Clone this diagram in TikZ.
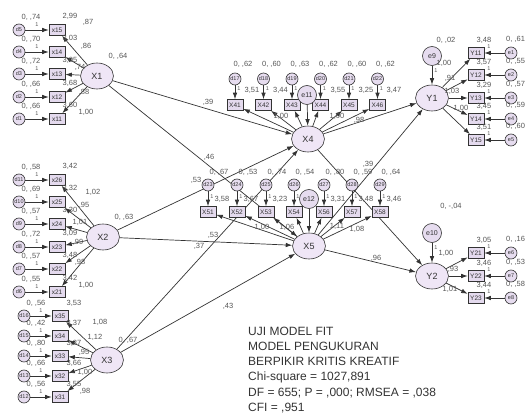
\documentclass[tikz,border=0pt]{standalone}
\usepackage{fontspec}
\setmainfont{Liberation Sans}
\usetikzlibrary{arrows.meta,shapes.geometric}
\pgfdeclarelayer{background}
\pgfsetlayers{background,main}
\definecolor{linec}{HTML}{333333}
\definecolor{latfill}{HTML}{EFE6F6}
\definecolor{obsfill}{HTML}{E4DAEE}
\definecolor{errfill}{HTML}{E6DCEF}
\definecolor{labc}{HTML}{555555}
\definecolor{textc}{HTML}{333333}
\begin{document}
\begin{tikzpicture}[x=1pt,y=-1pt,
  lat/.style={ellipse, draw=linec, line width=0.6pt, fill=latfill, minimum width=33pt,
    minimum height=26pt, inner sep=0pt, font=\fontsize{9}{9}\selectfont, text=linec},
  ind/.style={rectangle, draw=linec, line width=0.6pt, fill=obsfill, minimum width=16pt,
    minimum height=11pt, inner sep=0pt, font=\fontsize{6.5}{6.5}\selectfont, text=linec},
  errc/.style={circle, draw=linec, line width=0.6pt, fill=errfill, minimum size=12pt,
    inner sep=0pt, font=\fontsize{5.5}{5.5}\selectfont, text=linec},
  dist/.style={errc, minimum size=19pt, font=\fontsize{7}{7}\selectfont},
  est/.style={font=\fontsize{7.5}{7.5}\selectfont, text=labc, inner sep=0pt},
  one/.style={font=\fontsize{5.5}{5.5}\selectfont, text=labc, inner sep=0pt},
  reg/.style={-{Latex[length=6.5pt,width=4.5pt]}, draw=linec, line width=0.7pt},
  fit/.style={anchor=base west, font=\fontsize{12}{12}\selectfont, text=textc, inner sep=0pt}
]
\useasboundingbox (0,0) rectangle (528,414);

% ---------- latent variables ----------
\node[lat] (X1) at (97,76) {X1};
\node[lat] (X2) at (103,237) {X2};
\node[lat] (X3) at (107,360) {X3};
\node[lat] (X4) at (308,139) {X4};
\node[lat] (X5) at (309,246) {X5};
\node[lat] (Y1) at (432,98) {Y1};
\node[lat] (Y2) at (432,276) {Y2};

\node[est] at (118,56) {0, ,64};
\node[est] at (124,217) {0, ,63};
\node[est] at (128,340) {0, ,67};

% ---------- X1 indicators (name/y/error/variance/intercept/loading/label x/label y) ----------
\foreach \n/\y/\e/\v/\i/\l/\lx/\ly in {15/30/5/{0, ,74}/{2,99}/{,87}/88/22,
                                       14/52/4/{0, ,70}/{3,03}/{,86}/86/46,
                                       13/74/3/{0, ,72}/{3,05}/{,74}/80/67,
                                       12/97/2/{0, ,66}/{3,68}/{,88}/84/92,
                                       11/119/1/{0, ,66}/{3,60}/{1,00}/86/112}{
  \node[ind] (x\n) at (57,\y) {x\n};
  \node[errc] (d\e) at (19,\y) {d\e};
  \node[est] at (31,\y-13) {\v};
  \node[est] at (70,\y-14) {\i};
  \node[one] at (37,\y-5) {1};
  \node[est] at (\lx,\ly) {\l};
  \begin{pgfonlayer}{background}
    \draw[reg] (d\e) -- (x\n);
    \draw[reg] (X1) -- (x\n);
  \end{pgfonlayer}
}

% ---------- X2 indicators ----------
\foreach \n/\y/\e/\v/\i/\l/\lx/\ly in {26/180/11/{0, ,58}/{3,42}/{1,02}/93/192,
                                       25/202/10/{0, ,69}/{3,32}/{,95}/84/205,
                                       24/224/9/{0, ,57}/{3,30}/{1,01}/80/222,
                                       23/247/8/{0, ,72}/{3,09}/{,99}/78/242,
                                       22/269/7/{0, ,57}/{3,48}/{,98}/80/262,
                                       21/292/6/{0, ,55}/{3,42}/{1,00}/86/285}{
  \node[ind] (x\n) at (57,\y) {x\n};
  \node[errc] (d\e) at (19,\y) {d\e};
  \node[est] at (31,\y-13) {\v};
  \node[est] at (70,\y-14) {\i};
  \node[one] at (37,\y-5) {1};
  \node[est] at (\lx,\ly) {\l};
  \begin{pgfonlayer}{background}
    \draw[reg] (d\e) -- (x\n);
    \draw[reg] (X2) -- (x\n);
  \end{pgfonlayer}
}

% ---------- X3 indicators ----------
\foreach \n/\y/\e/\v/\i/\l/\lx/\ly in {35/316/16/{0, ,56}/{3,53}/{1,08}/100/322,
                                       34/336/15/{0, ,42}/{3,37}/{1,12}/95/337,
                                       33/356/14/{0, ,80}/{3,37}/{,95}/84/352,
                                       32/376/13/{0, ,66}/{3,66}/{1,00}/85/372,
                                       31/397/12/{0, ,56}/{3,55}/{,98}/85/391}{
  \node[ind] (x\n) at (60,\y) {x\n};
  \node[errc] (d\e) at (24,\y) {d\e};
  \node[est] at (36,\y-13) {\v};
  \node[est] at (74,\y-13) {\i};
  \node[one] at (41,\y-5) {1};
  \node[est] at (\lx,\ly) {\l};
  \begin{pgfonlayer}{background}
    \draw[reg] (d\e) -- (x\n);
    \draw[reg] (X3) -- (x\n);
  \end{pgfonlayer}
}

% ---------- X4 indicators ----------
\foreach \n/\e/\v [count=\k from 0] in {41/17/{0, ,62},
                                       42/18/{0, ,60},
                                       43/19/{0, ,63},
                                       44/20/{0, ,62},
                                       45/21/{0, ,60},
                                       46/22/{0, ,62}}{
  \node[ind] (X\n) at (235+28.5*\k,105) {X\n};
  \node[errc] (d\e) at (235+28.5*\k,79) {d\e};
  \node[est] at (243+28.5*\k,64) {\v};
  \node[one] at (239+28.5*\k,89) {1};
  \begin{pgfonlayer}{background}
    \draw[reg] (d\e) -- (X\n);
    \draw[reg] (X4) -- (X\n);
  \end{pgfonlayer}
}
\node[est] at (252,90) {3,51};
\node[est] at (280.5,90) {3,44};
\node[est] at (338,90) {3,55};
\node[est] at (366,90) {3,25};
\node[est] at (394,90) {3,47};
\node[dist] (e11) at (307,95) {e11};
\begin{pgfonlayer}{background}
  \draw[reg] (e11) -- (X4);
\end{pgfonlayer}
\node[est] at (281,116) {1,00};
\node[est] at (337,116) {1,00};
\node[est] at (359,120) {,98};

% ---------- X5 indicators ----------
\foreach \n/\e/\v/\x in {51/23/{0, ,67}/208,
                         52/24/{0, ,53}/237,
                         53/25/{0, ,74}/266,
                         54/26/{0, ,54}/294,
                         56/27/{0, ,80}/324,
                         57/28/{0, ,59}/352,
                         58/29/{0, ,64}/380}{
  \node[ind] (X\n) at (\x,212) {X\n};
  \node[errc] (d\e) at (\x,185) {d\e};
  \node[est] at (\x+11,172) {\v};
  \node[one] at (\x+4,197) {1};
  \begin{pgfonlayer}{background}
    \draw[reg] (d\e) -- (X\n);
    \draw[reg] (X5) -- (X\n);
  \end{pgfonlayer}
}
\node[est] at (222,199) {3,58};
\node[est] at (251,199) {3,67};
\node[est] at (280,199) {3,23};
\node[est] at (338,199) {3,31};
\node[est] at (366,199) {3,48};
\node[est] at (394,199) {3,46};
\node[dist] (e12) at (309,199) {e12};
\begin{pgfonlayer}{background}
  \draw[reg] (e12) -- (X5);
\end{pgfonlayer}
\node[est] at (262,227) {1,00};
\node[est] at (287,227) {1,06};
\node[est] at (337,226) {1,11};
\node[est] at (357,229) {1,08};

% ---------- Y1 indicators ----------
\foreach \n/\y/\e/\v/\i in {11/53/1/{0, ,61}/{3,48},
                            12/75/2/{0, ,55}/{3,57},
                            13/98/3/{0, ,57}/{3,29},
                            14/119/4/{0, ,59}/{3,45},
                            15/140/5/{0, ,60}/{3,51}}{
  \node[ind] (Y\n) at (476,\y) {Y\n};
  \node[errc] (e\e) at (511,\y) {e\e};
  \node[est, anchor=west] at (506,\y-14) {\v};
  \node[est] at (484,\y-13) {\i};
  \node[one] at (489,\y-6) {1};
  \begin{pgfonlayer}{background}
    \draw[reg] (e\e) -- (Y\n);
    \draw[reg] (Y1) -- (Y\n);
  \end{pgfonlayer}
}
\node[dist] (e9) at (432,56) {e9};
\node[est] at (446,40) {0, ,02};
\node[one] at (436,71) {1};
\begin{pgfonlayer}{background}
  \draw[reg] (e9) -- (Y1);
\end{pgfonlayer}
\node[est] at (444,63) {1,00};
\node[est] at (450,78) {,91};
\node[est] at (452,91) {1,03};
\node[est] at (461,108) {1,00};

% ---------- Y2 indicators ----------
\foreach \n/\y/\e/\v/\i in {21/253/6/{0, ,16}/{3,05},
                            22/276/7/{0, ,53}/{3,46},
                            23/298/8/{0, ,58}/{3,44}}{
  \node[ind] (Y\n) at (476,\y) {Y\n};
  \node[errc] (e\e) at (511,\y) {e\e};
  \node[est, anchor=west] at (506,\y-14) {\v};
  \node[est] at (484,\y-13) {\i};
  \node[one] at (489,\y-6) {1};
  \begin{pgfonlayer}{background}
    \draw[reg] (e\e) -- (Y\n);
    \draw[reg] (Y2) -- (Y\n);
  \end{pgfonlayer}
}
\node[dist] (e10) at (432,233) {e10};
\node[est] at (451,206) {0, -,04};
\node[one] at (436,248) {1};
\begin{pgfonlayer}{background}
  \draw[reg] (e10) -- (Y2);
\end{pgfonlayer}
\node[est] at (446,253) {1,00};
\node[est] at (453,269) {,93};
\node[est] at (450,289) {1,01};

% ---------- structural paths ----------
\begin{pgfonlayer}{background}
  \draw[reg] (X1) -- (X4);
  \draw[reg] (X1) -- (X5);
  \draw[reg] (X2) -- (X4);
  \draw[reg] (X2) -- (X5);
  \draw[reg] (X3) -- (X4);
  \draw[reg] (X3) -- (X5);
  \draw[reg] (X4) -- (Y1);
  \draw[reg] (X5) -- (Y1);
  \draw[reg] (X4) -- (Y2);
  \draw[reg] (X5) -- (Y2);
\end{pgfonlayer}
\node[est] at (208,102) {,39};
\node[est] at (209,157) {,46};
\node[est] at (196,180) {,53};
\node[est] at (213,235) {,53};
\node[est] at (199,246) {,37};
\node[est] at (228,306) {,43};
\node[est] at (368,164) {,39};
\node[est] at (376,258) {,96};

% ---------- fit summary ----------
\node[fit] (t1) at (248,336) {UJI MODEL FIT};
\node[fit] (t2) at (248,351) {MODEL PENGUKURAN};
\node[fit] (t3) at (248,366) {BERPIKIR KRITIS KREATIF};
\node[fit] (t4) at (248,381) {Chi-square = 1027,891};
\node[fit] (t5) at (248,396) {DF = 655; P = ,000; RMSEA = ,038};
\node[fit] (t6) at (248,411) {CFI = ,951};
\end{tikzpicture}
\end{document}
